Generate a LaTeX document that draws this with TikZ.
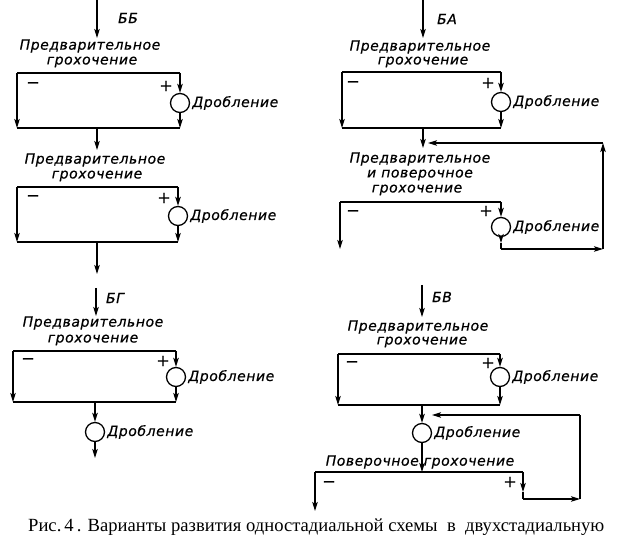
\documentclass[tikz,border=0pt]{standalone}
\usepackage{fontspec}
\setmainfont{Liberation Serif}
\newfontfamily\drf{DejaVu Sans}[LetterSpace=4, FakeBold=0.5]
\newfontfamily\sgn{DejaVu Sans}[FakeBold=0.8]
\usetikzlibrary{arrows.meta}
\tikzset{
  flow/.style={line width=1.3pt, -{Stealth[length=9pt,width=5.5pt,inset=2pt]}},
  plain/.style={line width=1.3pt},
  screen/.style={line width=2.8pt},
  crusher/.style={circle, draw, line width=1.3pt, minimum size=19pt, inner sep=0pt},
  lbl/.style={font=\drf\itshape\fontsize{14}{14}\selectfont, inner sep=0pt},
  sign/.style={font=\sgn\fontsize{16}{16}\selectfont, inner sep=0pt},
  captext/.style={font=\fontsize{18.6}{18.6}\selectfont, inner sep=0pt},
}
\begin{document}
\begin{tikzpicture}[x=1pt, y=-1pt]
\useasboundingbox (0,0) rectangle (625,545);

% ---------------- BB (top left) ----------------
\node[lbl] (bbL) at (128,18) {ББ};
\coordinate (bbIn) at (97,0);
\coordinate (bbInE) at (97,38);
\draw[flow] (bbIn) -- (bbInE);
\node[lbl] (bbT1) at (90,46) {Предварительное};
\node[lbl] (bbT2) at (92,62) {грохочение};
\coordinate (bbS1L) at (17,73);
\coordinate (bbS1R) at (180,73);
\draw[screen] (bbS1L) -- (bbS1R);
\node[sign] (bbM1) at (33,85) {−};
\node[sign] (bbP1) at (166,86) {+};
\node[crusher] (bbC1) at (180,103) {};
\node[lbl, anchor=west] (bbD1) at ([xshift=2pt]bbC1.east) {Дробление};
\coordinate (bbB1L) at (17,128);
\coordinate (bbB1R) at (180,128);
\coordinate (bbB1M) at (97,128);
\draw[flow] (bbS1R) -- (bbC1.north);
\draw[flow] (bbS1L) -- (bbB1L);
\draw[flow] (bbC1.south) -- (bbB1R);
\draw[plain] (bbB1L) -- (bbB1R);
\coordinate (bbMidE) at (97,150);
\draw[flow] (bbB1M) -- (bbMidE);
\node[lbl] (bbT3) at (95,160) {Предварительное};
\node[lbl] (bbT4) at (97,176) {грохочение};
\coordinate (bbS2L) at (17,187);
\coordinate (bbS2R) at (178,187);
\draw[screen] (bbS2L) -- (bbS2R);
\node[sign] (bbM2) at (33,198) {−};
\node[sign] (bbP2) at (164,198) {+};
\node[crusher] (bbC2) at (178,216) {};
\node[lbl, anchor=west] (bbD2) at ([xshift=2pt]bbC2.east) {Дробление};
\coordinate (bbB2L) at (17,242);
\coordinate (bbB2R) at (178,242);
\coordinate (bbB2M) at (97,242);
\coordinate (bbOut) at (97,274);
\draw[flow] (bbS2R) -- (bbC2.north);
\draw[flow] (bbS2L) -- (bbB2L);
\draw[flow] (bbC2.south) -- (bbB2R);
\draw[plain] (bbB2L) -- (bbB2R);
\draw[flow] (bbB2M) -- (bbOut);

% ---------------- BA (top right) ----------------
\node[lbl] (baL) at (447,19) {БА};
\coordinate (baIn) at (423,0);
\coordinate (baInE) at (423,38);
\draw[flow] (baIn) -- (baInE);
\node[lbl] (baT1) at (420,47) {Предварительное};
\node[lbl] (baT2) at (423,62) {грохочение};
\coordinate (baS1L) at (342,72);
\coordinate (baS1R) at (501,72);
\draw[screen] (baS1L) -- (baS1R);
\node[sign] (baM1) at (353,84) {−};
\node[sign] (baP1) at (488,83) {+};
\node[crusher] (baC1) at (501,102) {};
\node[lbl, anchor=west] (baD1) at ([xshift=2pt]baC1.east) {Дробление};
\coordinate (baB1L) at (342,128);
\coordinate (baB1R) at (501,128);
\coordinate (baB1M) at (423,128);
\draw[flow] (baS1R) -- (baC1.north);
\draw[flow] (baS1L) -- (baB1L);
\draw[flow] (baC1.south) -- (baB1R);
\draw[plain] (baB1L) -- (baB1R);
\coordinate (baMidE) at (423,148);
\draw[flow] (baB1M) -- (baMidE);
\node[lbl] (baT3) at (420,159) {Предварительное};
\node[lbl] (baT4) at (420,175) {и поверочное};
\node[lbl] (baT5) at (417,190) {грохочение};
\coordinate (baS2L) at (340,202);
\coordinate (baS2R) at (501,202);
\draw[screen] (baS2L) -- (baS2R);
\node[sign] (baM2) at (353,213) {−};
\node[sign] (baP2) at (486,211) {+};
\node[crusher] (baC2) at (501,227) {};
\node[lbl, anchor=west] (baD2) at ([xshift=2pt]baC2.east) {Дробление};
\coordinate (baOut) at (340,249);
\draw[flow] (baS2R) -- (baC2.north);
\draw[flow] (baS2L) -- (baOut);
\coordinate (baR0) at (501,243);
\coordinate (baR1) at (501,249);
\coordinate (baR2) at (603,249);
\coordinate (baR3) at (603,143);
\coordinate (baR4) at (428,143);
\draw[flow] (baC2.south) -- (baR0);
\draw[plain] (baR0) -- (baR1);
\draw[flow] (baR1) -- (baR2);
\draw[flow] (baR2) -- (baR3);
\draw[flow] (baR3) -- (baR4);

% ---------------- BG (bottom left) ----------------
\node[lbl] (bgL) at (115,298) {БГ};
\coordinate (bgIn) at (96,288);
\coordinate (bgInE) at (96,316);
\draw[flow] (bgIn) -- (bgInE);
\node[lbl] (bgT1) at (93,323) {Предварительное};
\node[lbl] (bgT2) at (93,340) {грохочение};
\coordinate (bgSL) at (13,351);
\coordinate (bgSR) at (176,351);
\draw[screen] (bgSL) -- (bgSR);
\node[sign] (bgM) at (28,361) {−};
\node[sign] (bgP) at (163,361) {+};
\node[crusher] (bgC1) at (176,377) {};
\node[lbl, anchor=west] (bgD1) at ([xshift=2pt]bgC1.east) {Дробление};
\coordinate (bgBL) at (13,402);
\coordinate (bgBR) at (176,402);
\coordinate (bgBM) at (95,402);
\draw[flow] (bgSR) -- (bgC1.north);
\draw[flow] (bgSL) -- (bgBL);
\draw[flow] (bgC1.south) -- (bgBR);
\draw[plain] (bgBL) -- (bgBR);
\node[crusher] (bgC2) at (95,432) {};
\node[lbl, anchor=west] (bgD2) at ([xshift=2pt]bgC2.east) {Дробление};
\coordinate (bgOut) at (95,458);
\draw[flow] (bgBM) -- (bgC2.north);
\draw[flow] (bgC2.south) -- (bgOut);

% ---------------- BV (bottom right) ----------------
\node[lbl] (bvL) at (442,297) {БВ};
\coordinate (bvIn) at (422,285);
\coordinate (bvInE) at (422,317);
\draw[flow] (bvIn) -- (bvInE);
\node[lbl] (bvT1) at (418,327) {Предварительное};
\node[lbl] (bvT2) at (422,342) {грохочение};
\coordinate (bvSL) at (338,354);
\coordinate (bvSR) at (500,354);
\draw[screen] (bvSL) -- (bvSR);
\node[sign] (bvM1) at (352,364) {−};
\node[sign] (bvP1) at (488,363) {+};
\node[crusher] (bvC1) at (500,377) {};
\node[lbl, anchor=west] (bvD1) at ([xshift=2pt]bvC1.east) {Дробление};
\coordinate (bvBL) at (338,405);
\coordinate (bvBR) at (500,405);
\coordinate (bvBM) at (422,405);
\draw[flow] (bvSR) -- (bvC1.north);
\draw[flow] (bvSL) -- (bvBL);
\draw[flow] (bvC1.south) -- (bvBR);
\draw[plain] (bvBL) -- (bvBR);
\node[crusher] (bvC2) at (422,433) {};
\node[lbl, anchor=west] (bvD2) at ([xshift=2pt]bvC2.east) {Дробление};
\draw[flow] (bvBM) -- (bvC2.north);
\node[lbl] (bvT3) at (420,462) {Поверочное грохочение};
\coordinate (bvS2L) at (315,472);
\coordinate (bvS2R) at (523,472);
\coordinate (bvS2M) at (422,472);
\draw[flow] (bvC2.south) -- (bvS2M);
\draw[screen] (bvS2L) -- (bvS2R);
\node[sign] (bvM2) at (329,484) {−};
\node[sign] (bvP2) at (510,482) {+};
\coordinate (bvOut) at (315,511);
\draw[flow] (bvS2L) -- (bvOut);
\coordinate (bvR0) at (523,492);
\coordinate (bvR1) at (523,499);
\coordinate (bvR2) at (580,499);
\coordinate (bvR3) at (580,415);
\coordinate (bvR4) at (432,415);
\draw[flow] (bvS2R) -- (bvR0);
\draw[plain] (bvR0) -- (bvR1);
\draw[flow] (bvR1) -- (bvR2);
\draw[plain] (bvR2) -- (bvR3);
\draw[flow] (bvR3) -- (bvR4);

% ---------------- caption ----------------
\node[captext, anchor=west] (caption) at (28,527) {Рис.\,4\,. Варианты развития одностадиальной схемы \ в \ двухстадиальную};
\end{tikzpicture}
\end{document}
